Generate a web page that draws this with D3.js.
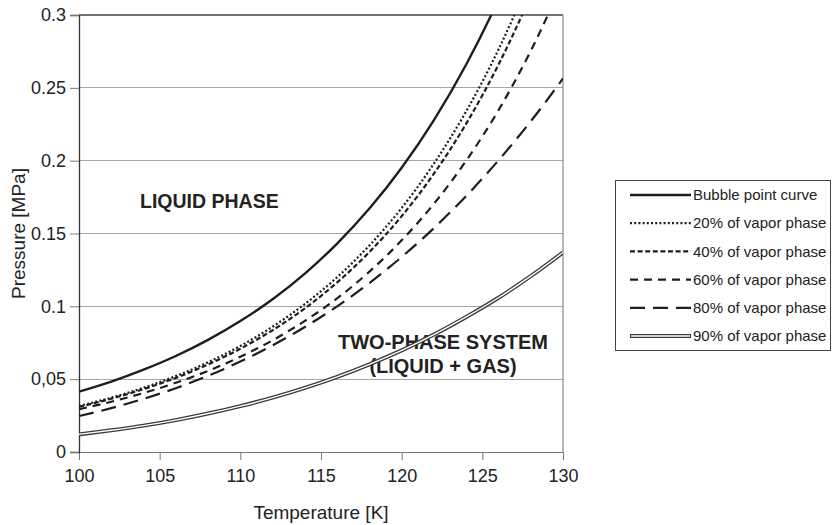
<!DOCTYPE html>
<html><head><meta charset="utf-8">
<script src="https://cdn.jsdelivr.net/npm/d3@7"></script>
<style>
body{margin:0;background:#fff}
svg{display:block}
text{font-family:"Liberation Sans",Arial,Helvetica,sans-serif;fill:#222}
</style>
</head><body>
<svg id="chart" width="832" height="525"></svg>
<script>
// ---- data ----
const temperatures = [100,102,104,106,108,110,112,114,116,118,120,122,124,126,128,130];
const bubblePoint  = [0.0414,0.0483,0.0565,0.0659,0.0770,0.0899,0.1049,0.1225,0.1431,0.1671,0.1951,0.2278,0.2660,0.3106,0.3626,0.4234];
const vapor20      = [0.0316,0.0373,0.0441,0.0521,0.0616,0.0728,0.0860,0.1016,0.1200,0.1418,0.1675,0.1980,0.2339,0.2763,0.3265,0.3858];
const vapor40      = [0.0310,0.0366,0.0432,0.0509,0.0601,0.0709,0.0836,0.0986,0.1164,0.1373,0.1619,0.1911,0.2254,0.2659,0.3137,0.3701];
const vapor60      = [0.0294,0.0345,0.0405,0.0475,0.0557,0.0654,0.0767,0.0900,0.1055,0.1238,0.1453,0.1704,0.2000,0.2346,0.2753,0.3229];
const vapor80      = [0.0247,0.0301,0.0365,0.0438,0.0523,0.0621,0.0732,0.0858,0.1000,0.1160,0.1339,0.1537,0.1758,0.2002,0.2270,0.2564];
const vapor90      = [0.0121,0.0149,0.0181,0.0219,0.0264,0.0315,0.0373,0.0440,0.0516,0.0602,0.0698,0.0806,0.0927,0.1059,0.1207,0.1370];
const seriesNames  = ["Bubble point curve","20% of vapor phase","40% of vapor phase","60% of vapor phase","80% of vapor phase","90% of vapor phase"];
const xTickValues  = [100,105,110,115,120,125,130];
const yTickValues  = [0,0.05,0.1,0.15,0.2,0.25,0.3];
const yTickLabels  = ["0","0,05","0.1","0.15","0.2","0.25","0.3"];
const xTitle = "Temperature [K]";
const yTitle = "Pressure [MPa]";
const regionLabels = ["LIQUID PHASE","TWO-PHASE SYSTEM","(LIQUID + GAS)"];

// ---- styles ----
const seriesValues = [bubblePoint, vapor20, vapor40, vapor60, vapor80, vapor90];
const styles = [
  {dash:null, w:2.4},
  {dash:"2,2.2", w:2.2},
  {dash:"5,2.6", w:2.2},
  {dash:"8,6", w:2.2},
  {dash:"15,8", w:2.2},
  {double:true}
];
const ink = "#1e1e1e";

const svg = d3.select("#chart");
const x = d3.scaleLinear().domain([100,130]).range([79,563]);
const y = d3.scaleLinear().domain([0,0.3]).range([452,15]);

// grid lines
svg.append("g").selectAll("line").data(yTickValues.filter(v=>v>0 && v<0.3)).join("line")
  .attr("x1",x(100)).attr("x2",x(130)).attr("y1",d=>y(d)).attr("y2",d=>y(d))
  .attr("stroke","#a6a6a6").attr("stroke-width",1).attr("shape-rendering","crispEdges");

// axes
const xAxis = svg.append("g").attr("transform",`translate(0,${y(0)})`)
  .call(d3.axisBottom(x).tickValues(xTickValues).tickSize(8).tickPadding(9).tickFormat(d3.format("d")));
xAxis.select(".domain").attr("stroke","#777");
xAxis.selectAll(".tick line").attr("stroke","#777");
xAxis.selectAll("text").attr("font-size",18).attr("fill","#222").attr("font-family","Liberation Sans, Arial, sans-serif");

const yAxis = svg.append("g").attr("transform",`translate(${x(100)},0)`)
  .call(d3.axisLeft(y).tickValues(yTickValues).tickSize(9).tickPadding(4).tickFormat((d,i)=>yTickLabels[i]));
yAxis.select(".domain").attr("stroke","#333").attr("stroke-width",1.3);
yAxis.selectAll(".tick line").attr("stroke","#777");
yAxis.selectAll("text").attr("font-size",18).attr("fill","#222").attr("font-family","Liberation Sans, Arial, sans-serif");

// top and right borders
svg.append("line").attr("x1",x(100)).attr("x2",x(130)).attr("y1",y(0.3)).attr("y2",y(0.3))
  .attr("stroke","#444").attr("stroke-width",1.3);
svg.append("line").attr("x1",x(130)).attr("x2",x(130)).attr("y1",y(0.3)).attr("y2",y(0))
  .attr("stroke","#888").attr("stroke-width",1.2);

// axis titles
svg.append("text").attr("x",(x(100)+x(130))/2).attr("y",519).attr("text-anchor","middle")
  .attr("font-size",19).text(xTitle);
svg.append("text").attr("transform",`translate(18,${(y(0)+y(0.3))/2}) rotate(-90)`)
  .attr("text-anchor","middle").attr("dy","0.35em").attr("font-size",19).text(yTitle);

// region labels
svg.append("text").attr("x",140).attr("y",208).attr("font-size",19.5).attr("font-weight","bold").text(regionLabels[0]);
svg.append("text").attr("x",443).attr("y",349).attr("text-anchor","middle").attr("font-size",20).attr("font-weight","bold").text(regionLabels[1]);
svg.append("text").attr("x",443).attr("y",373).attr("text-anchor","middle").attr("font-size",20).attr("font-weight","bold").text(regionLabels[2]);

// curves
svg.append("clipPath").attr("id","plotclip").append("rect")
  .attr("x",x(100)).attr("y",y(0.3)).attr("width",x(130)-x(100)).attr("height",y(0)-y(0.3));
const line = d3.line().x((d,i)=>x(temperatures[i])).y(d=>y(d)).curve(d3.curveMonotoneX);
const cg = svg.append("g").attr("clip-path","url(#plotclip)");
seriesValues.forEach((vals,k)=>{
  const s = styles[k];
  if (s.double) {
    cg.append("path").attr("d",line(vals)).attr("fill","none").attr("stroke","#3a3a3a").attr("stroke-width",4);
    cg.append("path").attr("d",line(vals)).attr("fill","none").attr("stroke","#fff").attr("stroke-width",1.4);
  } else {
    cg.append("path").attr("d",line(vals)).attr("fill","none").attr("stroke",ink)
      .attr("stroke-width",s.w).attr("stroke-dasharray",s.dash);
  }
});

// legend
const lg = svg.append("g");
lg.append("rect").attr("x",615.5).attr("y",180.5).attr("width",215).attr("height",170)
  .attr("fill","#fff").attr("stroke","#444").attr("stroke-width",1);
const rowY = d3.scaleLinear().domain([0,5]).range([195,336]);
seriesNames.forEach((name,k)=>{
  const s = styles[k], yy = rowY(k);
  if (s.double) {
    lg.append("line").attr("x1",630).attr("x2",691).attr("y1",yy).attr("y2",yy).attr("stroke","#3a3a3a").attr("stroke-width",4);
    lg.append("line").attr("x1",631).attr("x2",690).attr("y1",yy).attr("y2",yy).attr("stroke","#fff").attr("stroke-width",1.4);
  } else {
    lg.append("line").attr("x1",630).attr("x2",691).attr("y1",yy).attr("y2",yy)
      .attr("stroke",ink).attr("stroke-width",s.w).attr("stroke-dasharray",s.dash);
  }
  lg.append("text").attr("x",693).attr("y",yy).attr("dy","0.35em").attr("font-size",15).text(name);
});
</script>
</body></html>
